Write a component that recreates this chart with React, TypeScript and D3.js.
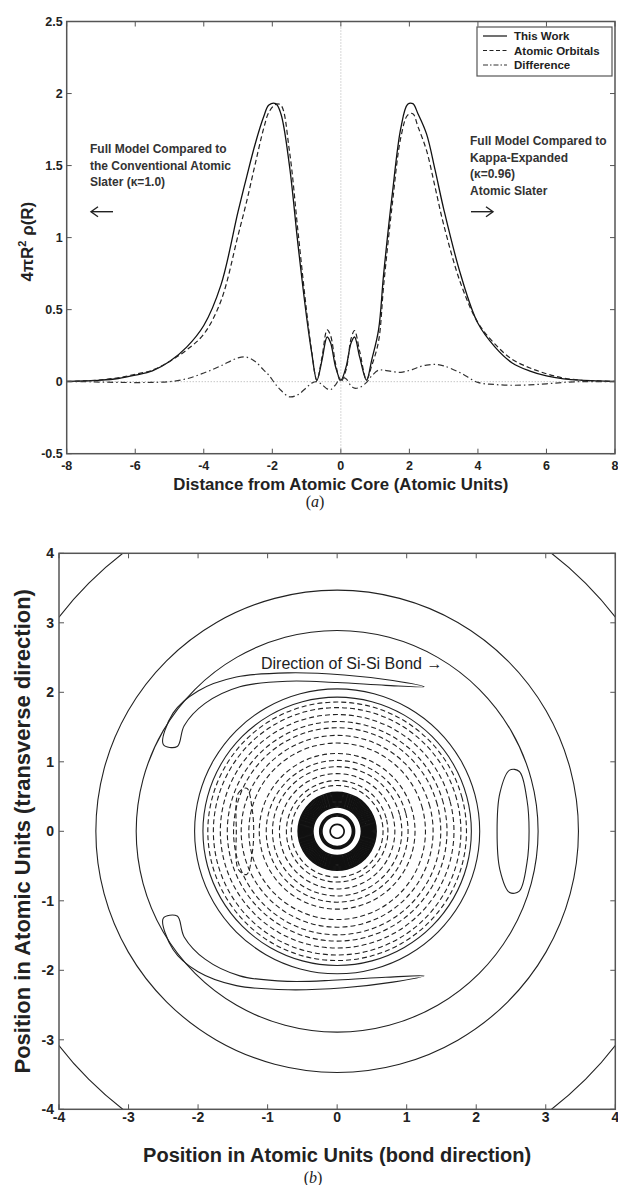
import React from "react";
import * as d3 from "d3";

// ---- panel (a): radial density along the bond ----
const distX = [-8, -7.5, -7, -6.5, -6, -5.5, -5, -4.5, -4, -3.5, -3, -2.75, -2.5, -2.25, -2.1, -1.9, -1.75, -1.5, -1.25, -1, -0.85, -0.7, -0.55, -0.4, -0.3, -0.15, 0, 0.15, 0.3, 0.4, 0.55, 0.75, 0.9, 1.1, 1.25, 1.5, 1.75, 1.95, 2.1, 2.25, 2.5, 2.75, 3, 3.5, 4, 4.5, 5, 5.5, 6, 6.5, 7, 7.5, 8];
const thisWork = [0.002, 0.005, 0.01, 0.022, 0.045, 0.075, 0.14, 0.24, 0.39, 0.67, 1.18, 1.42, 1.65, 1.84, 1.92, 1.93, 1.86, 1.5, 0.95, 0.45, 0.2, 0.01, 0.15, 0.31, 0.27, 0.1, 0.01, 0.1, 0.27, 0.31, 0.17, 0.01, 0.15, 0.36, 0.75, 1.3, 1.76, 1.925, 1.93, 1.86, 1.72, 1.47, 1.2, 0.74, 0.405, 0.24, 0.13, 0.075, 0.04, 0.02, 0.01, 0.005, 0.002];
const atomicOrbitals = [0.002, 0.005, 0.013, 0.027, 0.051, 0.08, 0.14, 0.22, 0.33, 0.56, 1.015, 1.25, 1.51, 1.76, 1.87, 1.925, 1.92, 1.6, 1.04, 0.49, 0.21, 0.01, 0.17, 0.36, 0.32, 0.12, 0.0, 0.08, 0.3, 0.355, 0.21, 0.015, 0.11, 0.28, 0.67, 1.23, 1.695, 1.85, 1.86, 1.77, 1.605, 1.35, 1.09, 0.68, 0.41, 0.26, 0.155, 0.097, 0.055, 0.025, 0.01, 0.005, 0.002];
const difference = [0, 0, -0.003, -0.005, -0.006, -0.005, 0, 0.02, 0.06, 0.11, 0.165, 0.17, 0.14, 0.08, 0.045, -0.02, -0.06, -0.105, -0.09, -0.04, -0.01, 0, -0.02, -0.05, -0.055, -0.02, 0.03, 0.02, -0.03, -0.045, -0.04, -0.005, 0.04, 0.08, 0.08, 0.07, 0.065, 0.075, 0.085, 0.1, 0.115, 0.12, 0.11, 0.06, -0.005, -0.02, -0.025, -0.022, -0.015, -0.005, 0, 0, 0];
const xTicksA = [-8, -6, -4, -2, 0, 2, 4, 6, 8];
const yTicksA = [-0.5, 0, 0.5, 1, 1.5, 2, 2.5];
const legendNames = ["This Work", "Atomic Orbitals", "Difference"];
const noteLeft = ["Full Model Compared to", "the Conventional Atomic", "Slater (κ=1.0)"];
const noteRight = ["Full Model Compared to", "Kappa-Expanded", "(κ=0.96)", "Atomic Slater"];

// ---- panel (b): deformation density contours ----
const ticksB = [-4, -3, -2, -1, 0, 1, 2, 3, 4];
const angles = d3.range(0, 360, 15); // degrees, for polar contour radii
// positive (solid) near-circular contours, radius per angle
const solidRings = [
  angles.map(() => 5.05),
  angles.map(() => 3.47),
  angles.map(() => 2.89),
  angles.map(() => 2.05),
  angles.map(() => 1.93),
];
// negative (dashed) contours
const dashedRings = [1.86, 1.78, 1.68, 1.58, 1.49, 1.38, 1.27, 1.12, 1.02, 0.93, 0.83, 0.73, 0.66];
// dense positive core
const coreRings = [0.56, 0.545, 0.53, 0.515, 0.5, 0.485, 0.47, 0.455, 0.44, 0.425, 0.41, 0.395, 0.38, 0.365, 0.35, 0.25, 0.235, 0.22, 0.1];
// closed positive lobes (x, y in atomic units)
const lobes: [number, number][][] = [
  [[2.3, 0], [2.34, 0.55], [2.48, 0.88], [2.62, 0.86], [2.73, 0.45], [2.76, 0], [2.73, -0.45], [2.62, -0.86], [2.48, -0.88], [2.34, -0.55]],
  [[-2.5, 1.25], [-2.36, 1.7], [-2.0, 2.02], [-1.45, 2.22], [-0.7, 2.28], [0.1, 2.25], [0.8, 2.17], [1.25, 2.08], [0.7, 2.1], [0.0, 2.14], [-0.7, 2.16], [-1.4, 2.08], [-1.9, 1.84], [-2.2, 1.52], [-2.3, 1.22]],
  [[-2.5, -1.25], [-2.36, -1.7], [-2.0, -2.02], [-1.45, -2.22], [-0.7, -2.28], [0.1, -2.25], [0.8, -2.17], [1.25, -2.08], [0.7, -2.1], [0.0, -2.14], [-0.7, -2.16], [-1.4, -2.08], [-1.9, -1.84], [-2.2, -1.52], [-2.3, -1.22]],
];
const dashedInner: [number, number][][] = [
  [[-1.45, 0], [-1.42, 0.55], [-1.3, 0.62], [-1.22, 0.3], [-1.2, 0], [-1.22, -0.3], [-1.3, -0.62], [-1.42, -0.55]],
];

const SANS = "'Liberation Sans', Arial, sans-serif";
const SERIF = "'Liberation Serif', 'Times New Roman', serif";
const AXIS = "#555";

function Arrow({ x1, x2, y }: { x1: number; x2: number; y: number }) {
  const dir = x2 > x1 ? -1 : 1;
  return (
    <g stroke="#222" strokeWidth={1.4} fill="none">
      <line x1={x1} x2={x2} y1={y} y2={y} />
      <path d={`M${x2 + dir * 7},${y - 5} L${x2},${y} L${x2 + dir * 7},${y + 5}`} />
    </g>
  );
}

function PanelA() {
  const L = 66.7, R = 615, T = 21.5, B = 453.7;
  const x = d3.scaleLinear().domain([-8, 8]).range([L, R]);
  const y = d3.scaleLinear().domain([-0.5, 2.5]).range([B, T]);
  const line = (vals: number[]) =>
    d3.line<number>().x((_, i) => x(distX[i])).y((d) => y(d)).curve(d3.curveCatmullRom.alpha(0.5))(vals) || "";
  const series = [
    { vals: thisWork, dash: "none", color: "#111", w: 1.3 },
    { vals: atomicOrbitals, dash: "5,3", color: "#222", w: 1.2 },
    { vals: difference, dash: "6,3,1.5,3", color: "#333", w: 1.2 },
  ];
  return (
    <g>
      <rect x={L} y={T} width={R - L} height={B - T} fill="#fff" />
      <line x1={L} x2={R} y1={y(0)} y2={y(0)} stroke="#999" strokeDasharray="1,2" strokeWidth={0.8} />
      <line x1={x(0)} x2={x(0)} y1={T} y2={B} stroke="#999" strokeDasharray="1,2" strokeWidth={0.8} />
      {series.map((s, i) => (
        <path key={i} d={line(s.vals)} fill="none" stroke={s.color} strokeWidth={s.w} strokeDasharray={s.dash} />
      ))}
      <rect x={L} y={T} width={R - L} height={B - T} fill="none" stroke={AXIS} strokeWidth={1.5} />
      {xTicksA.map((t) => (
        <g key={t}>
          <line x1={x(t)} x2={x(t)} y1={B} y2={B - 5} stroke={AXIS} />
          <line x1={x(t)} x2={x(t)} y1={T} y2={T + 5} stroke={AXIS} />
          <text x={x(t)} y={B + 16} textAnchor="middle" fontFamily={SANS} fontWeight="bold" fontSize={12.5} fill="#222">{t}</text>
        </g>
      ))}
      {yTicksA.map((t) => (
        <g key={t}>
          <line x1={L} x2={L + 5} y1={y(t)} y2={y(t)} stroke={AXIS} />
          <line x1={R} x2={R - 5} y1={y(t)} y2={y(t)} stroke={AXIS} />
          <text x={L - 4} y={y(t) + 4.5} textAnchor="end" fontFamily={SANS} fontWeight="bold" fontSize={12.5} fill="#222">{t}</text>
        </g>
      ))}
      <text x={(L + R) / 2} y={490} textAnchor="middle" fontFamily={SANS} fontWeight="bold" fontSize={16.8} fill="#222">
        Distance from Atomic Core (Atomic Units)
      </text>
      <text x={315} y={507} textAnchor="middle" fontFamily={SERIF} fontSize={16} fill="#222">
        (<tspan fontStyle="italic">a</tspan>)
      </text>
      <text transform={`translate(33,${(T + B) / 2 + 4}) rotate(-90)`} textAnchor="middle" fontFamily={SANS} fontWeight="bold" fontSize={17} fill="#222">
        4πR<tspan dy={-7} fontSize={11}>2</tspan><tspan dy={7}> ρ(R)</tspan>
      </text>
      {/* legend */}
      <rect x={477} y={27} width={135} height={49} fill="#fff" stroke={AXIS} strokeWidth={1.2} />
      {legendNames.map((n, i) => (
        <g key={n}>
          <line x1={483} x2={507} y1={36 + i * 14.5} y2={36 + i * 14.5} stroke={series[i].color} strokeWidth={1.2} strokeDasharray={i === 0 ? "none" : i === 1 ? "4,2.5" : "5,2,1.5,2"} />
          <text x={514} y={40 + i * 14.5} fontFamily={SANS} fontWeight="bold" fontSize={11.5} fill="#222">{n}</text>
        </g>
      ))}
      {/* annotations */}
      {noteLeft.map((s, i) => (
        <text key={s} x={90} y={153 + i * 16.7} fontFamily={SANS} fontWeight="bold" fontSize={12} fill="#333">{s}</text>
      ))}
      <Arrow x1={113} x2={91} y={211.7} />
      {noteRight.map((s, i) => (
        <text key={s} x={470} y={145 + i * 16.7} fontFamily={SANS} fontWeight="bold" fontSize={12} fill="#333">{s}</text>
      ))}
      <Arrow x1={471} x2={493} y={211.7} />
    </g>
  );
}

function PanelB() {
  const L = 59, R = 615.3, T = 553.3, B = 1109.3;
  const x = d3.scaleLinear().domain([-4, 4]).range([L, R]);
  const y = d3.scaleLinear().domain([-4, 4]).range([B, T]);
  const closed = d3.line<[number, number]>().x((d) => x(d[0])).y((d) => y(d[1])).curve(d3.curveCatmullRomClosed.alpha(0.5));
  const polar = (radii: number[]) =>
    closed(radii.map((r, i) => [r * Math.cos((angles[i] * Math.PI) / 180), r * Math.sin((angles[i] * Math.PI) / 180)] as [number, number])) || "";
  const circle = (r: number) => polar(angles.map(() => r));
  return (
    <g>
      <defs>
        <clipPath id="clipB">
          <rect x={L} y={T} width={R - L} height={B - T} />
        </clipPath>
      </defs>
      <g clipPath="url(#clipB)" fill="none" stroke="#222">
        {solidRings.map((r, i) => <path key={"s" + i} d={polar(r)} strokeWidth={1.1} />)}
        {lobes.map((p, i) => <path key={"l" + i} d={closed(p) || ""} strokeWidth={1.1} />)}
        {dashedRings.map((r) => <path key={"d" + r} d={circle(r)} strokeWidth={1.1} strokeDasharray="5,3" />)}
        {dashedInner.map((p, i) => <path key={"di" + i} d={closed(p) || ""} strokeWidth={1.1} strokeDasharray="5,3" />)}
        {coreRings.map((r) => <path key={"c" + r} d={circle(r)} strokeWidth={1.7} stroke="#111" />)}
      </g>
      <rect x={L} y={T} width={R - L} height={B - T} fill="none" stroke={AXIS} strokeWidth={1.5} />
      {ticksB.map((t) => (
        <g key={t}>
          <line x1={x(t)} x2={x(t)} y1={B} y2={B - 5} stroke={AXIS} />
          <line x1={x(t)} x2={x(t)} y1={T} y2={T + 5} stroke={AXIS} />
          <line x1={L} x2={L + 5} y1={y(t)} y2={y(t)} stroke={AXIS} />
          <line x1={R} x2={R - 5} y1={y(t)} y2={y(t)} stroke={AXIS} />
          <text x={x(t)} y={B + 13} textAnchor="middle" fontFamily={SANS} fontWeight="bold" fontSize={14} fill="#222">{t}</text>
          <text x={L - 5} y={y(t) + 5} textAnchor="end" fontFamily={SANS} fontWeight="bold" fontSize={14} fill="#222">{t}</text>
        </g>
      ))}
      <text x={261} y={669} fontFamily={SANS} fontSize={16} fill="#222">Direction of Si-Si Bond →</text>
      <text x={(L + R) / 2} y={1162} textAnchor="middle" fontFamily={SANS} fontWeight="bold" fontSize={20} fill="#222">
        Position in Atomic Units (bond direction)
      </text>
      <text x={313} y={1183} textAnchor="middle" fontFamily={SERIF} fontSize={16} fill="#222">
        (<tspan fontStyle="italic">b</tspan>)
      </text>
      <text transform={`translate(30,${(T + B) / 2}) rotate(-90)`} textAnchor="middle" fontFamily={SANS} fontWeight="bold" fontSize={22} fill="#222">
        Position in Atomic Units (transverse direction)
      </text>
    </g>
  );
}

export default function App() {
  return (
    <svg width={618} height={1185} style={{ position: "absolute", left: 0, top: 0, background: "#fff" }}>
      <rect width={618} height={1185} fill="#fff" />
      <PanelA />
      <PanelB />
    </svg>
  );
}
